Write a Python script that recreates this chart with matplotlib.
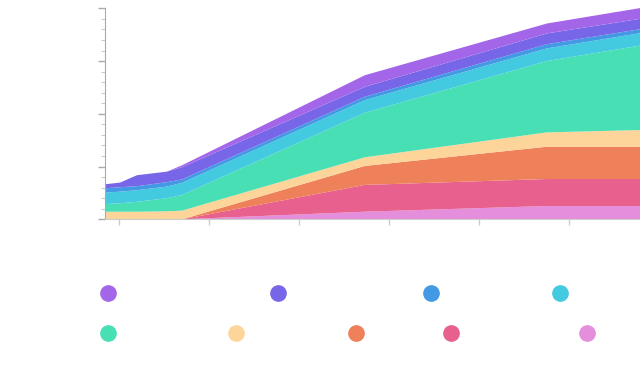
import numpy as np
import matplotlib
matplotlib.use("Agg")
import matplotlib.pyplot as plt
from matplotlib.lines import Line2D

# x positions (tick units), one per sample
x = [-0.156, 0.011, 0.2, 0.533, 0.7, 2.733, 4.756, 5.79]

# stacked layers, bottom -> top
other        = [0, 0, 0, 0, 0, 3.6, 6.3, 6.3]
partnerships = [0, 0, 0, 0, 0, 12.7, 12.8, 12.8]
support      = [0, 0, 0, 0, 0, 9.0, 15.3, 15.3]
consulting   = [3.6, 3.6, 3.6, 3.8, 4.1, 4.1, 6.8, 7.9]
retail       = [3.6, 4.0, 4.7, 6.2, 7.4, 21.1, 33.8, 40.0]
licensing    = [5.4, 5.5, 5.5, 5.5, 5.8, 6.0, 6.0, 5.9]
mobile       = [2.1, 2.1, 1.9, 2.1, 1.6, 1.6, 2.0, 1.9]
cloud        = [1.9, 2.2, 5.2, 5.0, 5.8, 4.7, 5.1, 4.9]
enterprise   = [0, 0, 0, 0, 0.9, 5.5, 4.7, 5.1]

layers = [other, partnerships, support, consulting, retail,
          licensing, mobile, cloud, enterprise]
names = ["Misc", "Partnerships", "Support", "Consulting", "Retail shop",
         "Labs", "Mobile apps", "Cloud services", "Enterprise sales"]
colors = ["#E48EDC", "#E8608E", "#EE805A", "#FDD59B", "#48DFB4",
          "#44CAE0", "#4499E4", "#7866E8", "#A466E8"]

fig = plt.figure(figsize=(6.4, 3.7), dpi=100)
ax = fig.add_axes([105/640, (370-219.3)/370, 1 - 105/640, 211/370])

ax.stackplot(x, *layers, colors=colors, linewidth=0)

ax.set_xlim(-0.156, 5.79)
ax.set_ylim(0, 100)
ax.set_xticks(range(6))
ax.set_yticks([0, 25, 50, 75, 100])
ax.set_yticks(np.arange(0, 101, 5), minor=True)
ax.set_xticklabels([])
ax.set_yticklabels([])
ax.tick_params(axis='y', which='major', length=5, color='#aaaaaa', width=1)
ax.tick_params(axis='y', which='minor', length=3, color='#cccccc', width=0.8)
ax.tick_params(axis='x', length=4, color='#cccccc', width=1)
for s in ['top', 'right']:
    ax.spines[s].set_visible(False)
ax.spines['left'].set_color('#aaaaaa')
ax.spines['bottom'].set_color('#cccccc')

# legend: two rows, top series first
order = list(range(len(layers)))[::-1]
rows = [order[:4], order[4:]]
ys = [(370-294)/370, (370-334)/370]
for row, yy in zip(rows, ys):
    handles = [Line2D([], [], ls='none', marker='o', markersize=11,
                      markerfacecolor=colors[i], markeredgecolor=colors[i])
               for i in row]
    leg = fig.legend(handles, [names[i] for i in row], loc='center left',
                     bbox_to_anchor=(101/640, yy), ncol=len(row),
                     frameon=False, borderaxespad=0, borderpad=0,
                     handlelength=1, handletextpad=0.6, columnspacing=1.0,
                     prop={'family': 'DejaVu Sans Mono', 'size': 10})
    for t in leg.get_texts():
        t.set_color('white')

fig.savefig("out.png", dpi=100)
